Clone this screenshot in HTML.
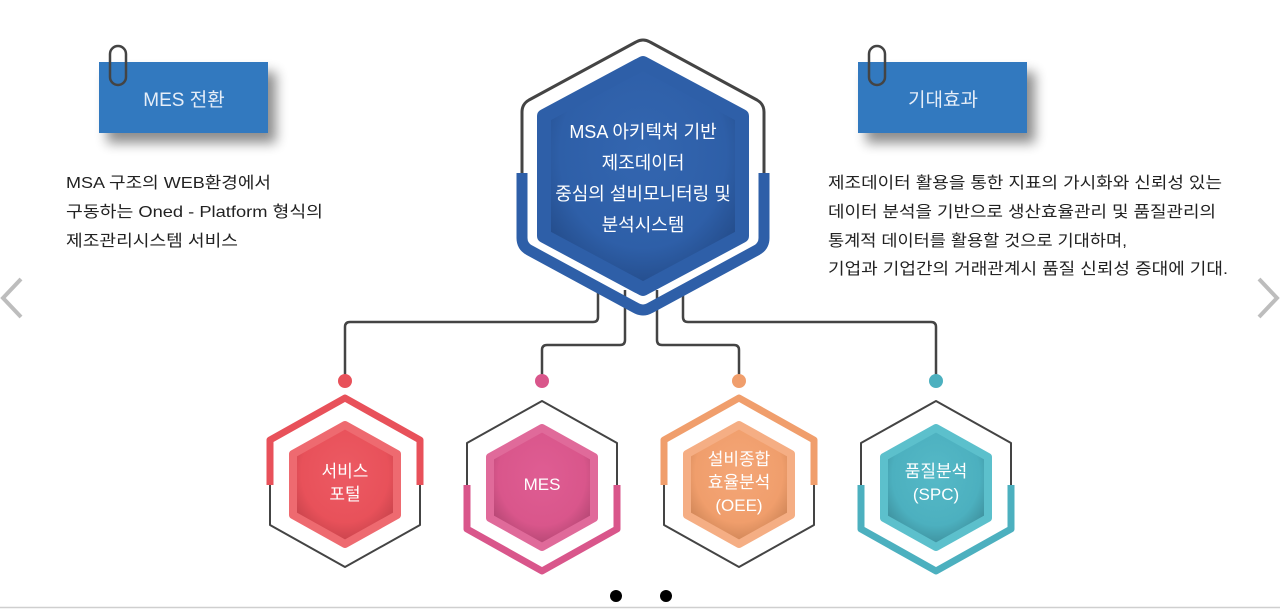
<!DOCTYPE html>
<html><head><meta charset="utf-8"><style>
html,body{margin:0;padding:0;background:#fff;width:1280px;height:609px;overflow:hidden}
svg{display:block}
text{font-family:"Liberation Sans","Noto Sans CJK KR",sans-serif}
</style></head><body>
<svg width="1280" height="609" viewBox="0 0 1280 609" xmlns="http://www.w3.org/2000/svg">
<defs>
<filter id="sh" x="-20%" y="-20%" width="150%" height="160%"><feGaussianBlur in="SourceAlpha" stdDeviation="6"/><feOffset dx="8" dy="10"/><feComponentTransfer><feFuncA type="linear" slope="0.45"/></feComponentTransfer><feMerge><feMergeNode/><feMergeNode in="SourceGraphic"/></feMerge></filter>
<radialGradient id="gb" cx="50%" cy="40%" r="60%"><stop offset="0" stop-color="#3366b0"/><stop offset="0.7" stop-color="#2e5fa8"/><stop offset="1" stop-color="#244c8a"/></radialGradient>
<radialGradient id="gr" cx="50%" cy="40%" r="60%"><stop offset="0" stop-color="#ec5a63"/><stop offset="0.7" stop-color="#e8515a"/><stop offset="1" stop-color="#c6434b"/></radialGradient>
<radialGradient id="gp" cx="50%" cy="40%" r="60%"><stop offset="0" stop-color="#df5d93"/><stop offset="0.7" stop-color="#d9568b"/><stop offset="1" stop-color="#b24672"/></radialGradient>
<radialGradient id="go" cx="50%" cy="40%" r="60%"><stop offset="0" stop-color="#f4a677"/><stop offset="0.7" stop-color="#f09e6c"/><stop offset="1" stop-color="#cd8456"/></radialGradient>
<radialGradient id="gt" cx="50%" cy="40%" r="60%"><stop offset="0" stop-color="#55b9c7"/><stop offset="0.7" stop-color="#4cb0bf"/><stop offset="1" stop-color="#3d8e9b"/></radialGradient>
</defs>

<polyline points="21,279 3,298 21,317" fill="none" stroke="#bdbdbd" stroke-width="4"/>
<polyline points="1259,279 1277,298 1259,317" fill="none" stroke="#bdbdbd" stroke-width="4"/>
<line x1="0" y1="607.5" x2="1280" y2="607.5" stroke="#cfcfcf" stroke-width="1.5"/>
<circle cx="616" cy="596" r="6" fill="#000"/>
<circle cx="666" cy="596" r="6" fill="#000"/>

<rect x="99" y="62" width="169" height="71" fill="#3279bf" filter="url(#sh)"/>
<text x="184" y="106" font-size="19" fill="#e6eef8" text-anchor="middle">MES 전환</text>
<rect x="110" y="46" width="16" height="39" rx="8" fill="none" stroke="#444" stroke-width="2.5"/>
<rect x="858" y="62" width="169" height="71" fill="#3279bf" filter="url(#sh)"/>
<text x="943" y="106" font-size="19" fill="#e6eef8" text-anchor="middle">기대효과</text>
<rect x="869" y="46" width="16" height="39" rx="8" fill="none" stroke="#444" stroke-width="2.5"/>

<g font-size="16" fill="#222">
<text x="66" y="188" textLength="205" lengthAdjust="spacingAndGlyphs">MSA 구조의 WEB환경에서</text>
<text x="66" y="217" textLength="257" lengthAdjust="spacingAndGlyphs">구동하는 Oned - Platform 형식의</text>
<text x="66" y="246" textLength="172" lengthAdjust="spacingAndGlyphs">제조관리시스템 서비스</text>
<text x="828" y="188" textLength="394" lengthAdjust="spacingAndGlyphs">제조데이터 활용을 통한 지표의 가시화와 신뢰성 있는</text>
<text x="828" y="217" textLength="388" lengthAdjust="spacingAndGlyphs">데이터 분석을 기반으로 생산효율관리 및 품질관리의</text>
<text x="828" y="246" textLength="299" lengthAdjust="spacingAndGlyphs">통계적 데이터를 활용할 것으로 기대하며,</text>
<text x="828" y="274" textLength="400" lengthAdjust="spacingAndGlyphs">기업과 기업간의 거래관계시 품질 신뢰성 증대에 기대.</text>
</g>

<g fill="none" stroke="#444" stroke-width="2.5" stroke-linejoin="round">
<path d="M598,290 V317 q0,5 -5,5 H350 q-5,0 -5,5 V378"/>
<path d="M625,290 V340 q0,5 -5,5 H547 q-5,0 -5,5 V378"/>
<path d="M657,290 V340 q0,5 5,5 H734 q5,0 5,5 V378"/>
<path d="M683,290 V317 q0,5 5,5 H931 q5,0 5,5 V378"/>
</g>
<circle cx="345" cy="381" r="7" fill="#e8515a"/>
<circle cx="542" cy="381" r="7" fill="#d9568b"/>
<circle cx="739" cy="381" r="7" fill="#f09e6c"/>
<circle cx="936" cy="381" r="7" fill="#4cb0bf"/>

<path d="M522,173 V112 Q522,104 529,100 L636,42 Q643,38 650,42 L757,100 Q764,104 764,112 V173" fill="none" stroke="#444" stroke-width="3" stroke-linejoin="round"/>
<path d="M522,173 V238 Q522,246 529,250 L636,308 Q643,312 650,308 L757,250 Q764,246 764,238 V173" fill="none" stroke="#2e5fa8" stroke-width="11" stroke-linejoin="round"/>
<polygon points="643,63 742,116 742,236 643,289 544,236 544,116" fill="url(#gb)" stroke="#2e5fa8" stroke-width="14" stroke-linejoin="round"/>
<g font-size="18" fill="#fff" text-anchor="middle">
<text x="643" y="138">MSA  아키텍처 기반</text>
<text x="643" y="169">제조데이터</text>
<text x="643" y="200">중심의 설비모니터링 및</text>
<text x="643" y="231">분석시스템</text>
</g>

<g stroke-linejoin="round" fill="none">
<path d="M270,485 V440 L345,398 L420,440 V485" stroke="#e8515a" stroke-width="7"/>
<path d="M270,485 V525 L345,567 L420,525 V485" stroke="#444" stroke-width="2"/>
<path d="M467,485 V443 L542,401 L617,443 V485" stroke="#444" stroke-width="2"/>
<path d="M467,485 V529 L542,571 L617,529 V485" stroke="#d9568b" stroke-width="7"/>
<path d="M664,485 V440 L739,398 L814,440 V485" stroke="#f09e6c" stroke-width="7"/>
<path d="M664,485 V525 L739,567 L814,525 V485" stroke="#444" stroke-width="2"/>
<path d="M861,485 V443 L936,401 L1011,443 V485" stroke="#444" stroke-width="2"/>
<path d="M861,485 V529 L936,571 L1011,529 V485" stroke="#4cb0bf" stroke-width="7"/>
</g>
<g stroke-linejoin="round" stroke-width="8">
<polygon points="345,425 397,454 397,515 345,544 293,515 293,454" fill="url(#gr)" stroke="#ee6a70"/>
<polygon points="542,428 594,457 594,518 542,547 490,518 490,457" fill="url(#gp)" stroke="#e06a9a"/>
<polygon points="739,425 791,454 791,515 739,544 687,515 687,454" fill="url(#go)" stroke="#f5ae84"/>
<polygon points="936,428 988,457 988,518 936,547 884,518 884,457" fill="url(#gt)" stroke="#5cc0cc"/>
</g>
<g font-size="17" fill="#fff" text-anchor="middle">
<text x="345" y="477">서비스</text>
<text x="345" y="500">포털</text>
<text x="542" y="490">MES</text>
<text x="739" y="465">설비종합</text>
<text x="739" y="488">효율분석</text>
<text x="739" y="511">(OEE)</text>
<text x="936" y="477">품질분석</text>
<text x="936" y="500">(SPC)</text>
</g>
</svg>
</body></html>
